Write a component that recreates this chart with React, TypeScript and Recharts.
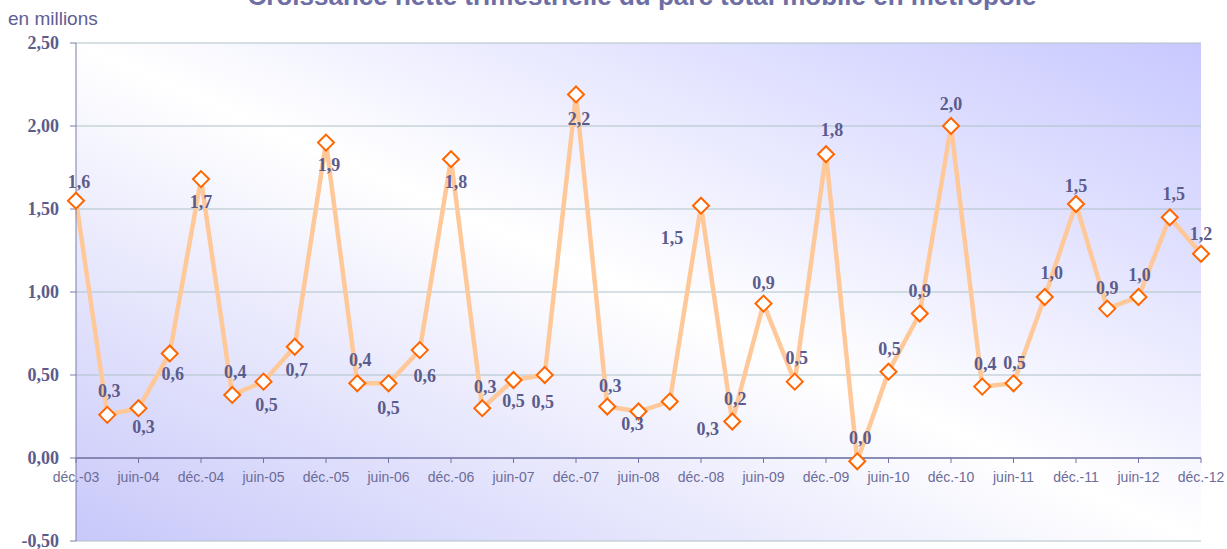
import { LineChart, Line, XAxis, YAxis, CartesianGrid, ReferenceLine } from "recharts";

const quarters = [
  "déc.-03", "mars-04", "juin-04", "sept.-04", "déc.-04", "mars-05", "juin-05", "sept.-05",
  "déc.-05", "mars-06", "juin-06", "sept.-06", "déc.-06", "mars-07", "juin-07", "sept.-07",
  "déc.-07", "mars-08", "juin-08", "sept.-08", "déc.-08", "mars-09", "juin-09", "sept.-09",
  "déc.-09", "mars-10", "juin-10", "sept.-10", "déc.-10", "mars-11", "juin-11", "sept.-11",
  "déc.-11", "mars-12", "juin-12", "sept.-12", "déc.-12",
];

const netGrowth = [
  1.55, 0.26, 0.30, 0.63, 1.68, 0.38, 0.46, 0.67,
  1.90, 0.45, 0.45, 0.65, 1.80, 0.30, 0.47, 0.50,
  2.19, 0.31, 0.28, 0.34, 1.52, 0.22, 0.93, 0.46,
  1.83, -0.02, 0.52, 0.87, 2.00, 0.43, 0.45, 0.97,
  1.53, 0.90, 0.97, 1.45, 1.23,
];

const pointLabels = [
  "1,6", "0,3", "0,3", "0,6", "1,7", "0,4", "0,5", "0,7",
  "1,9", "0,4", "0,5", "0,6", "1,8", "0,3", "0,5", "0,5",
  "2,2", "0,3", "0,3", "0,3", "1,5", "0,2", "0,9", "0,5",
  "1,8", "0,0", "0,5", "0,9", "2,0", "0,4", "0,5", "1,0",
  "1,5", "0,9", "1,0", "1,5", "1,2",
];

const yTicks = [-0.5, 0, 0.5, 1, 1.5, 2, 2.5];

// where each value label sits relative to its marker (dx, dy), as placed in the source
const labelShift: [number, number][] = [
  [3, -19], [2, -24], [5, 19], [3, 21], [0, 23], [3, -23], [3, 23], [2, 23],
  [3, 22], [3, -23], [0, 25], [5, 26], [5, 23], [3, -21], [0, 21], [-2, 27],
  [3, 25], [3, -21], [-6, 12], [38, 27], [-29, 32], [3, -22], [0, -21], [2, -24],
  [6, -24], [3, -23], [1, -23], [0, -23], [0, -22], [3, -23], [1, -20], [7, -24],
  [0, -18], [0, -21], [1, -22], [4, -23], [0, -20],
];

const data = quarters.map((q, i) => ({ q, v: netGrowth[i] }));

const W = 1227;
const H = 549;
const TOP = 43;
const BOTTOM = 7;
const X_AXIS_H = 1;
const Y_MIN = -0.5;
const Y_MAX = 2.5;
const ZERO_Y = TOP + ((H - TOP - BOTTOM - X_AXIS_H) * Y_MAX) / (Y_MAX - Y_MIN);

const serif = "'Liberation Serif', 'Times New Roman', serif";
const sans = "'Liberation Sans', Arial, sans-serif";

const renderXTick = (p: any) => (
  <g key={`t-${p.index}`}>
    <line x1={p.x} x2={p.x} y1={ZERO_Y} y2={ZERO_Y + 5} stroke="#7272a6" />
    <text x={p.x} y={ZERO_Y + 24} textAnchor="middle" fill="#6c6c98" fontSize={14} fontFamily={sans}>
      {p.payload.value}
    </text>
  </g>
);

const Diamond = (p: any) => {
  const r = 8;
  return (
    <path
      key={`d-${p.index}`}
      d={`M${p.cx},${p.cy - r}L${p.cx + r},${p.cy}L${p.cx},${p.cy + r}L${p.cx - r},${p.cy}Z`}
      fill="#ffffff"
      stroke="#ff6600"
      strokeWidth={2}
    />
  );
};

const ValueLabel = (p: any) => {
  const [dx, dy] = labelShift[p.index] || [0, -20];
  return (
    <text
      key={`l-${p.index}`}
      x={p.x + dx}
      y={p.y + dy}
      textAnchor="middle"
      dominantBaseline="central"
      fill="#5c5c8c"
      fontSize={18}
      fontWeight="bold"
      fontFamily={serif}
    >
      {pointLabels[p.index]}
    </text>
  );
};

export default function App() {
  return (
    <div style={{ position: "absolute", left: 0, top: 0, width: W, height: H, background: "#fff" }}>
      <svg width={0} height={0} style={{ position: "absolute" }}>
        <defs>
          <linearGradient id="plotBg" x1="0" y1="1" x2="1" y2="0">
            <stop offset="0%" stopColor="#c8c8fa" />
            <stop offset="50%" stopColor="#ffffff" />
            <stop offset="100%" stopColor="#c8c8ff" />
          </linearGradient>
        </defs>
      </svg>
      <LineChart width={W} height={H} data={data} margin={{ top: TOP, right: 26, bottom: BOTTOM, left: 0 }}>
        <CartesianGrid vertical={false} stroke="#aec2c6" fill="url(#plotBg)" fillOpacity={1} />
        <XAxis
          dataKey="q"
          interval={1}
          height={X_AXIS_H}
          axisLine={false}
          tickLine={false}
          tick={renderXTick}
        />
        <YAxis
          width={76}
          domain={[Y_MIN, Y_MAX]}
          ticks={yTicks}
          interval={0}
          allowDataOverflow
          axisLine={{ stroke: "#7a7aac" }}
          tickLine={{ stroke: "#7a7aac" }}
          tickSize={6}
          tickMargin={11}
          tickFormatter={(v: number) => v.toFixed(2).replace(".", ",")}
          tick={{ fill: "#5c5c8c", fontSize: 18, fontWeight: "bold", fontFamily: serif }}
        />
        <ReferenceLine y={0} stroke="#7272a6" strokeWidth={1.5} />
        <Line
          type="linear"
          dataKey="v"
          stroke="#ffc899"
          strokeWidth={4.5}
          dot={Diamond}
          activeDot={false}
          label={ValueLabel}
          isAnimationActive={false}
        />
      </LineChart>
      <svg width={W} height={H} style={{ position: "absolute", left: 0, top: 0, pointerEvents: "none" }}>
        <text x={642} y={5} textAnchor="middle" fill="#6e6ea4" fontSize={26} fontWeight="bold" fontFamily={sans}>
          Croissance nette trimestrielle du parc total mobile en métropole
        </text>
        <text x={8} y={25} fill="#5e5e92" fontSize={19} fontFamily={sans}>
          en millions
        </text>
      </svg>
    </div>
  );
}
